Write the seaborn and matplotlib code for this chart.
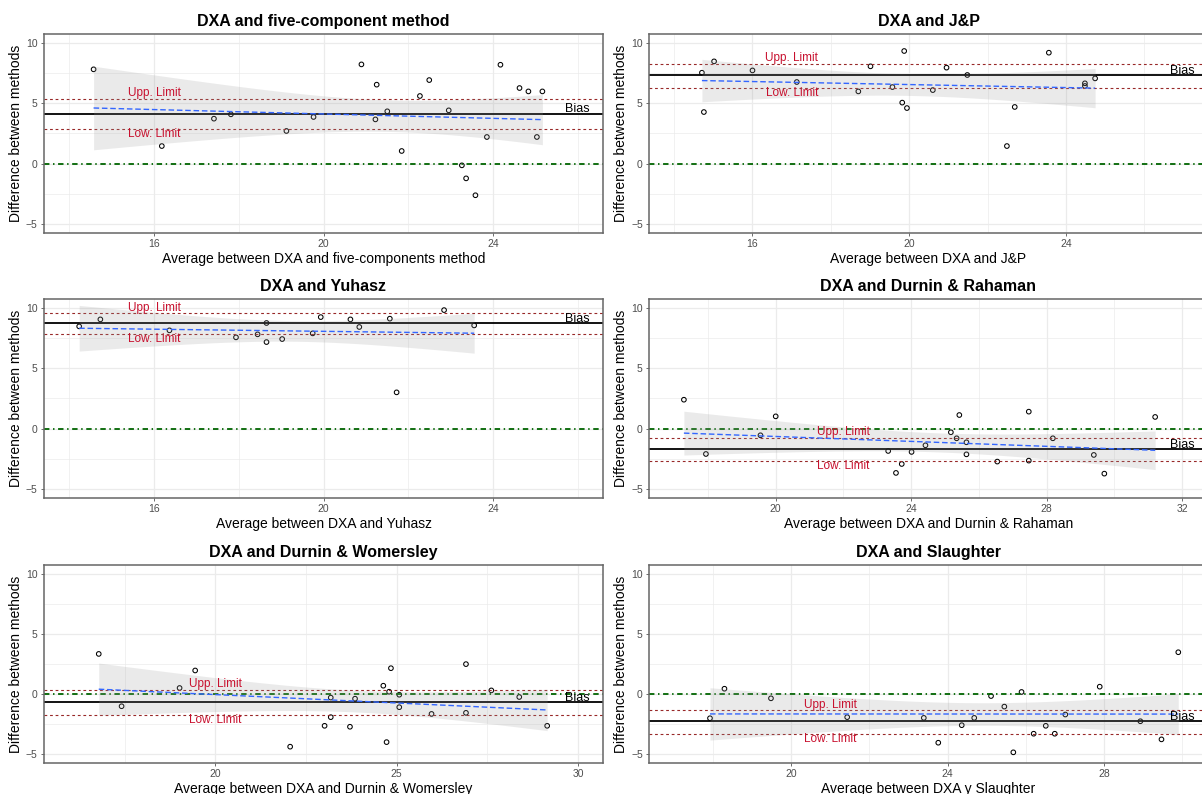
import numpy as np
import pandas as pd
import matplotlib
matplotlib.use("Agg")
import matplotlib.pyplot as plt
from matplotlib.ticker import FixedLocator, AutoMinorLocator
import seaborn as sns

# Panel titles and axis labels
titles = ["DXA and five-component method", "DXA and J&P", "DXA and Yuhasz",
          "DXA and Durnin & Rahaman", "DXA and Durnin & Womersley", "DXA and Slaughter"]
xlabels = ["Average between DXA and five-components method", "Average between DXA and J&P",
           "Average between DXA and Yuhasz", "Average between DXA and Durnin & Rahaman",
           "Average between DXA and Durnin & Womersley", "Average between DXA y Slaughter"]

# Bland-Altman points (average, difference)
five_avg = [14.57, 16.18, 17.41, 17.81, 19.12, 19.76, 20.89, 21.22, 21.25, 21.50, 21.84, 22.27,
            22.49, 22.95, 23.26, 23.36, 23.58, 23.85, 24.17, 24.62, 24.83, 25.16, 25.03]
five_diff = [7.82, 1.46, 3.73, 4.09, 2.71, 3.87, 8.23, 3.67, 6.55, 4.34, 1.05, 5.61,
             6.93, 4.42, -0.14, -1.22, -2.62, 2.21, 8.20, 6.27, 5.99, 5.99, 2.21]

jp_avg = [14.71, 14.76, 15.02, 16.00, 17.13, 18.70, 19.01, 19.57, 19.82, 19.87, 19.94, 20.60,
          20.95, 21.48, 22.49, 22.69, 23.56, 24.48, 24.48, 24.74]
jp_diff = [7.54, 4.28, 8.48, 7.73, 6.77, 5.99, 8.07, 6.35, 5.06, 9.34, 4.61, 6.10,
           7.96, 7.35, 1.46, 4.70, 9.20, 6.66, 6.44, 7.07]

yuh_avg = [14.23, 14.73, 16.36, 17.93, 18.44, 18.65, 18.65, 19.02, 19.74, 19.93, 20.63, 20.84,
           21.56, 21.72, 22.84, 23.55]
yuh_diff = [8.48, 9.06, 8.15, 7.57, 7.82, 8.76, 7.18, 7.43, 7.90, 9.25, 9.06, 8.43,
            9.12, 3.01, 9.83, 8.56]

rah_avg = [17.29, 17.94, 19.55, 20.00, 23.32, 23.55, 23.72, 24.01, 24.42, 25.17, 25.34, 25.42,
           25.63, 25.63, 26.54, 27.47, 27.47, 28.18, 29.39, 29.70, 31.20]
rah_diff = [2.40, -2.10, -0.55, 1.02, -1.85, -3.67, -2.93, -1.93, -1.38, -0.30, -0.80, 1.13,
            -1.13, -2.13, -2.73, 1.41, -2.65, -0.80, -2.18, -3.73, 0.97]

wom_avg = [16.78, 17.41, 19.01, 19.44, 22.06, 23.01, 23.18, 23.18, 23.71, 23.85, 24.63, 24.72,
           24.79, 24.84, 25.07, 25.07, 25.96, 26.91, 26.91, 27.61, 28.38, 29.15]
wom_diff = [3.34, -1.02, 0.50, 1.96, -4.39, -2.65, -0.30, -1.93, -2.73, -0.39, 0.69, -4.01,
            0.19, 2.15, -0.06, -1.10, -1.66, 2.49, -1.57, 0.30, -0.25, -2.65]

sla_avg = [17.92, 18.29, 19.48, 21.43, 23.39, 23.76, 24.36, 24.68, 25.11, 25.45, 25.68, 25.89,
           26.20, 26.51, 26.74, 27.01, 27.89, 28.93, 29.47, 29.90]
sla_diff = [-2.02, 0.44, -0.36, -1.93, -1.99, -4.06, -2.60, -1.99, -0.17, -1.05, -4.86, 0.17,
            -3.31, -2.65, -3.31, -1.71, 0.61, -2.27, -3.78, 3.48]

averages = [five_avg, jp_avg, yuh_avg, rah_avg, wom_avg, sla_avg]
differences = [five_diff, jp_diff, yuh_diff, rah_diff, wom_diff, sla_diff]

# bias and limits of agreement lines
bias = [4.15, 7.32, 8.78, -1.71, -0.69, -2.27]
upp_limit = [5.39, 8.29, 9.56, -0.75, 0.36, -1.35]
low_limit = [2.87, 6.27, 7.87, -2.68, -1.71, -3.31]
label_x = [16, 17, 16, 22, 20, 21]

x_limits = [(13.40, 26.59), (13.36, 27.62), (13.40, 26.59),
            (16.26, 32.76), (15.27, 30.69), (16.36, 30.66)]
x_ticks = [[16, 20, 24], [16, 20, 24], [16, 20, 24],
           [20, 24, 28, 32], [20, 25, 30], [20, 24, 28]]
y_ticks = [-5, 0, 5, 10]

# 97.5% t quantiles by degrees of freedom, for the lm confidence band
t975 = {14: 2.145, 18: 2.101, 19: 2.093, 20: 2.086, 21: 2.080}

sns.set_theme(style="white")
plt.rcParams["font.family"] = ["Liberation Sans", "DejaVu Sans"]

fig = plt.figure(figsize=(12.02, 7.94), dpi=100)
W, H = 1202, 794

# axes boxes in pixels (left, top, right, bottom)
cols = [(44, 603), (649, 1208)]
rows = [(34, 233), (299, 498), (565, 763)]

for i in range(6):
    r, c = divmod(i, 2)
    x0, x1 = cols[c]
    y0, y1 = rows[r]
    ax = fig.add_axes([x0 / W, 1 - y1 / H, (x1 - x0) / W, (y1 - y0) / H])
    df = pd.DataFrame({"avg": averages[i], "diff": differences[i]})

    sns.scatterplot(data=df, x="avg", y="diff", ax=ax, marker="o", s=11,
                    facecolor="none", edgecolor="black", linewidth=0.75, zorder=2)

    ax.axhline(upp_limit[i], color="#982828", lw=0.8, ls=(0, (2.5, 2.5)), zorder=2.5)
    ax.axhline(low_limit[i], color="#982828", lw=0.8, ls=(0, (2.5, 2.5)), zorder=2.5)
    ax.axhline(bias[i], color="black", lw=1.3, zorder=2.5)
    ax.axhline(0, color="#006400", lw=1.3, ls=(0, (3, 2, 0.8, 2)), zorder=2.5)

    # linear fit with its 95% confidence band (like geom_smooth(method="lm"))
    xv = df["avg"].to_numpy()
    yv = df["diff"].to_numpy()
    n = len(xv)
    slope, icept = np.polyfit(xv, yv, 1)
    resid = yv - (icept + slope * xv)
    s_err = np.sqrt(np.sum(resid ** 2) / (n - 2))
    grid = np.linspace(xv.min(), xv.max(), 100)
    se = s_err * np.sqrt(1 / n + (grid - xv.mean()) ** 2 / np.sum((xv - xv.mean()) ** 2))
    fit = icept + slope * grid
    ax.fill_between(grid, fit - t975[n - 2] * se, fit + t975[n - 2] * se,
                    facecolor="#999999", alpha=0.2, lw=0, zorder=3)
    sns.regplot(data=df, x="avg", y="diff", ax=ax, scatter=False, ci=None,
                color="#3366FF", line_kws=dict(lw=1.0, ls=(0, (4, 2)), zorder=3.5))

    ax.text(label_x[i], upp_limit[i] + 0.45, "Upp. Limit", color="#C8102E",
            fontsize=8.5, ha="center", va="center", zorder=5)
    ax.text(label_x[i], low_limit[i] - 0.45, "Low. Limit", color="#C8102E",
            fontsize=8.5, ha="center", va="center", zorder=5)
    ax.text(0.9545, bias[i] + 0.35, "Bias", color="black", fontsize=9,
            ha="center", va="center", transform=ax.get_yaxis_transform(), zorder=5)

    ax.set_xlim(*x_limits[i])
    ax.set_ylim(-5.75, 10.75)
    ax.xaxis.set_major_locator(FixedLocator(x_ticks[i]))
    ax.yaxis.set_major_locator(FixedLocator(y_ticks))
    ax.xaxis.set_minor_locator(AutoMinorLocator(2))
    ax.yaxis.set_minor_locator(AutoMinorLocator(2))
    ax.grid(which="major", color="#EBEBEB", lw=0.9)
    ax.grid(which="minor", color="#EBEBEB", lw=0.5)
    ax.set_axisbelow(True)
    ax.tick_params(which="major", length=2.5, width=0.6, color="#555555",
                   labelsize=7.5, labelcolor="#4D4D4D", pad=2, left=True, bottom=True)
    ax.tick_params(which="minor", length=0)
    for sp in ax.spines.values():
        sp.set_color("#666666")
        sp.set_linewidth(1.1)

    ax.set_title(titles[i], fontsize=11.5, fontweight="bold", pad=6, color="black")
    ax.set_xlabel(xlabels[i], fontsize=10, color="black", labelpad=2)
    ax.set_ylabel("Difference between methods", fontsize=10, color="black", labelpad=2)

fig.savefig("out.png", dpi=100)
